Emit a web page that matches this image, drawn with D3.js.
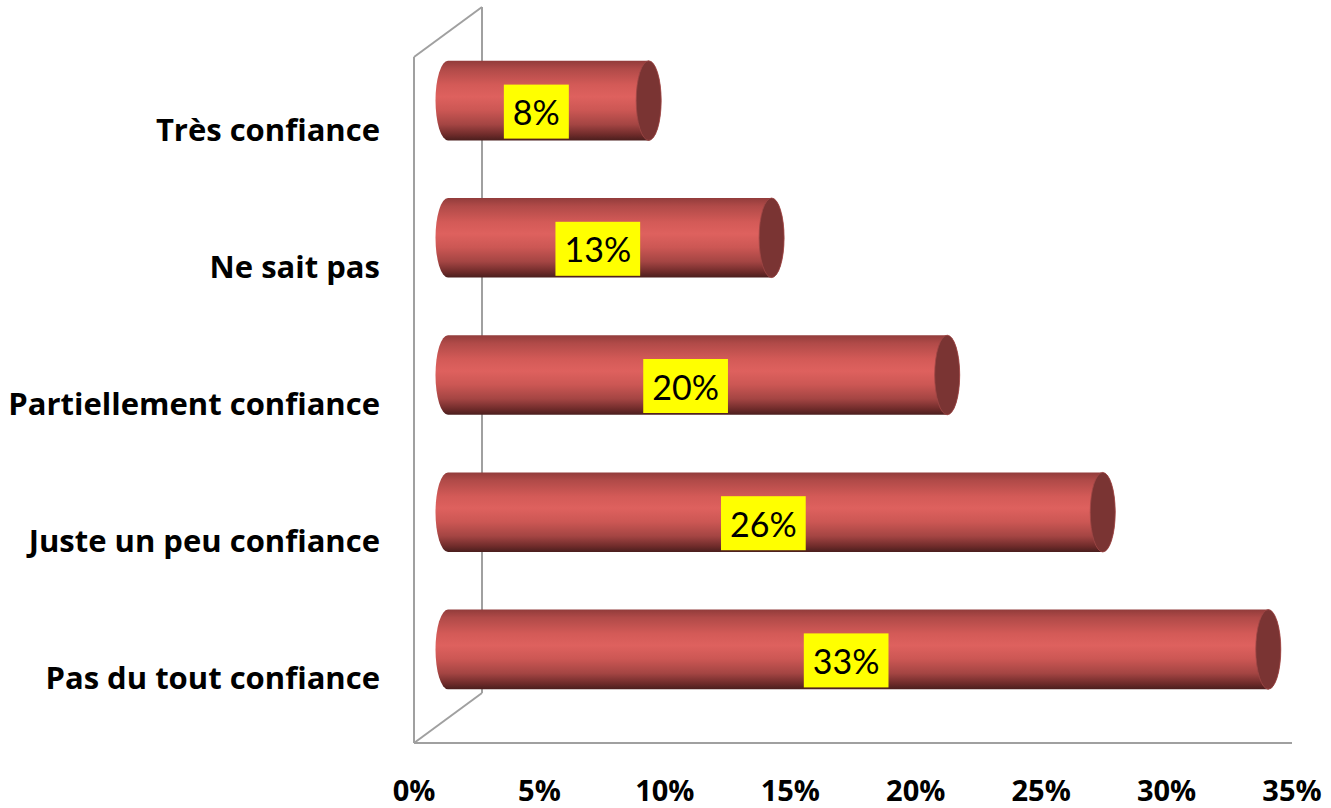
<!DOCTYPE html>
<html><head><meta charset="utf-8">
<script src="https://cdn.jsdelivr.net/npm/d3@7"></script>
<style>body{margin:0;background:#fff}svg{display:block}</style>
</head><body>
<svg id="c" width="1331" height="808"></svg>
<script>
const categories = ["Très confiance","Ne sait pas","Partiellement confiance","Juste un peu confiance","Pas du tout confiance"];
const values = [8.0, 12.9, 19.9, 26.1, 32.7];
const valueLabels = ["8%","13%","20%","26%","33%"];
const ticks = [0,5,10,15,20,25,30,35];
const tickLabels = ["0%","5%","10%","15%","20%","25%","30%","35%"];

(function(){
const svg = d3.select("#c");
const pLeft = 414, pRight = 1292, pTop = 57, pBottom = 743;
const depthX = 68, depthY = -50;
const x = d3.scaleLinear().domain([0,35]).range([pLeft, pRight]);
const y = d3.scaleBand().domain(categories).range([pTop, pBottom]).paddingInner(0.42).paddingOuter(0.21);
const yc = d3.scaleBand().domain(categories).range([pTop, pBottom]);

const defs = svg.append("defs");
const g = defs.append("linearGradient").attr("id","bodyGrad").attr("x1",0).attr("y1",0).attr("x2",0).attr("y2",1);
[[0,"#923c3b"],[0.1,"#b04a48"],[0.3,"#d35a57"],[0.45,"#de615e"],[0.62,"#cc5754"],[0.8,"#a44543"],[0.93,"#6e2b2a"],[1,"#4a1e1d"]]
  .forEach(([o,c])=>g.append("stop").attr("offset",o).attr("stop-color",c));

const wall = "#a0a0a0";
const lines = [
  [pLeft, pTop, pLeft+depthX, pTop+depthY],
  [pLeft+depthX, pTop+depthY, pLeft+depthX, pBottom+depthY],
  [pLeft, pTop, pLeft, pBottom],
  [pLeft, pBottom, pLeft+depthX, pBottom+depthY],
  [pLeft, pBottom, pRight, pBottom]
];
svg.append("g").selectAll("line").data(lines).join("line")
  .attr("x1",d=>d[0]).attr("y1",d=>d[1]).attr("x2",d=>d[2]).attr("y2",d=>d[3])
  .attr("stroke",wall).attr("stroke-width",2);

const dx = depthX/2, dy = depthY/2;
const rx = 12.5;
const bars = svg.append("g").selectAll("g").data(categories.map((c,i)=>({c,v:values[i],l:valueLabels[i]}))).join("g");
bars.each(function(d){
  const sel = d3.select(this);
  const x0 = x(0)+dx, x1 = x(d.v)+dx;
  const y0 = y(d.c)+dy, h = y.bandwidth(), ry = h/2, cy = y0+ry;
  sel.append("path")
    .attr("d",`M${x0},${y0} L${x1},${y0} A${rx},${ry} 0 0 1 ${x1},${y0+h} L${x0},${y0+h} A${rx},${ry} 0 0 1 ${x0},${y0} Z`)
    .attr("fill","url(#bodyGrad)");
  sel.append("ellipse").attr("cx",x1).attr("cy",cy).attr("rx",rx).attr("ry",ry)
    .attr("fill","#7a3433").attr("stroke","#a04846").attr("stroke-width",0.8);
  const lx = (x0+x1)/2 - 12, ly = cy + 11;
  const t = sel.append("text").attr("x",lx).attr("y",ly).attr("text-anchor","middle")
    .attr("dominant-baseline","central")
    .attr("font-family","Lato, 'Open Sans', sans-serif").attr("font-size",34).attr("fill","#000")
    .text(d.l);
  const tw = t.node().getComputedTextLength();
  sel.insert("rect","text").attr("x",lx - tw/2 - 9).attr("y",ly-27).attr("width",tw+18).attr("height",54).attr("fill","#ffff00");
});

svg.append("g").selectAll("text").data(categories).join("text")
  .attr("x",380).attr("y",d=>yc(d)+yc.bandwidth()/2+15)
  .attr("text-anchor","end")
  .attr("font-family","'Open Sans', Lato, sans-serif").attr("font-weight","bold").attr("font-size",31)
  .attr("fill","#000").text(d=>d);

svg.append("g").selectAll("text").data(ticks).join("text")
  .attr("x",d=>x(d)).attr("y",801).attr("text-anchor","middle")
  .attr("font-family","'Open Sans', Lato, sans-serif").attr("font-weight","bold").attr("font-size",29)
  .attr("fill","#000").text((d,i)=>tickLabels[i]);
})();
</script>
</body></html>
